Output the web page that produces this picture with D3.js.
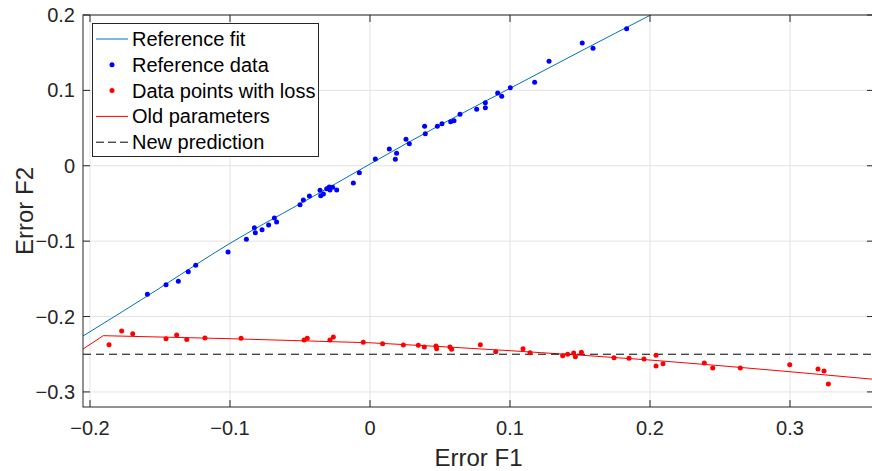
<!DOCTYPE html>
<html>
<head>
<meta charset="utf-8">
<script src="https://cdn.jsdelivr.net/npm/d3@7"></script>
<style>
  html, body { margin: 0; padding: 0; background: #fff; }
  svg { display: block; font-family: "Liberation Sans", Arial, Helvetica, sans-serif; }
</style>
</head>
<body>
<svg id="chart" width="872" height="471"></svg>
<script>
// ---------- data ----------
const xTicks = [-0.2, -0.1, 0, 0.1, 0.2, 0.3];
const xTickLabels = ["\u22120.2", "\u22120.1", "0", "0.1", "0.2", "0.3"];
const yTicks = [-0.3, -0.2, -0.1, 0, 0.1, 0.2];
const yTickLabels = ["\u22120.3", "\u22120.2", "\u22120.1", "0", "0.1", "0.2"];

const refX = [-0.159, -0.1457, -0.1369, -0.1298, -0.1245, -0.1014, -0.0883, -0.0826, -0.0819, -0.0771,
  -0.0724, -0.0683, -0.0667, -0.05, -0.0476, -0.0433, -0.0357, -0.0352, -0.0333, -0.0309,
  -0.0291, -0.0286, -0.0267, -0.0238, -0.0119, -0.0076, 0.0038, 0.0138, 0.0181, 0.0190,
  0.0257, 0.0281, 0.0390, 0.0395, 0.0481, 0.0514, 0.0576, 0.06, 0.0643, 0.0762,
  0.0824, 0.0824, 0.0912, 0.0941, 0.1002, 0.1176, 0.1279, 0.1516, 0.1593, 0.1833];
const refY = [-0.1705, -0.1578, -0.1533, -0.1405, -0.1321, -0.1144, -0.0976, -0.0822, -0.0888, -0.0848,
  -0.0786, -0.0693, -0.0746, -0.0517, -0.0454, -0.0401, -0.0326, -0.0397, -0.0375, -0.0304,
  -0.0282, -0.0322, -0.0286, -0.0322, -0.0229, -0.0092, 0.0090, 0.0222, 0.0086, 0.0165,
  0.0351, 0.0293, 0.0523, 0.0425, 0.0523, 0.0558, 0.0585, 0.0598, 0.0683, 0.0749,
  0.0837, 0.0770, 0.0965, 0.0921, 0.1036, 0.1107, 0.1386, 0.1629, 0.1558, 0.1818];

const fitX = [-0.205, -0.15, -0.1, -0.05, 0, 0.05, 0.1, 0.15, 0.2005, 0.25];
const fitY = [-0.2258, -0.162, -0.1029, -0.0505, 0.0023, 0.054, 0.1027, 0.1515, 0.2, 0.247];

const lossX = [-0.1864, -0.1774, -0.1695, -0.1457, -0.1381, -0.1309, -0.1179, -0.0921, -0.0471, -0.0448,
  -0.0286, -0.0262, -0.0048, 0.0090, 0.0238, 0.0345, 0.0388, 0.0471, 0.0476, 0.0571,
  0.0583, 0.0788, 0.0898, 0.1093, 0.1143, 0.1376, 0.1412, 0.1455, 0.1467, 0.1510,
  0.1743, 0.185, 0.1957, 0.2043, 0.2043, 0.2093, 0.2388, 0.2448, 0.2645, 0.2998,
  0.32, 0.3243, 0.3274];
const lossY = [-0.2374, -0.2192, -0.2228, -0.2294, -0.2245, -0.2303, -0.2285, -0.2289, -0.2312, -0.2289,
  -0.2312, -0.2272, -0.2342, -0.2360, -0.2378, -0.2382, -0.2404, -0.2391, -0.2427, -0.2404,
  -0.2435, -0.2374, -0.2467, -0.2427, -0.2480, -0.2520, -0.2501, -0.2484, -0.2533, -0.2475,
  -0.2546, -0.2554, -0.2563, -0.2515, -0.2656, -0.2626, -0.2617, -0.2683, -0.2683, -0.2639,
  -0.2696, -0.2723, -0.2895];

const oldX = [-0.205, -0.1905, -0.1, -0.05, 0, 0.05, 0.1, 0.15, 0.2, 0.25, 0.3, 0.36];
const oldY = [-0.2431, -0.2254, -0.2294, -0.2321, -0.2348, -0.2398, -0.2453, -0.2512, -0.2577, -0.2652, -0.2732, -0.2833];

const newX = [-0.205, 0.36];
const newY = [-0.25, -0.25];

const legendLabels = ["Reference fit", "Reference data", "Data points with loss", "Old parameters", "New prediction"];

// ---------- layout ----------
const W = 872, H = 471;
const L = 83, R = 874, T = 15, B = 407;
const x = d3.scaleLinear().domain([-0.205, 0.36]).range([L, R]);
const y = d3.scaleLinear().domain([-0.32, 0.2]).range([B, T]);
const axisCol = "#262626";
const tickLen = 7;

const svg = d3.select("#chart");
svg.append("defs").append("clipPath").attr("id", "clip")
  .append("rect").attr("x", L).attr("y", T).attr("width", R - L).attr("height", B - T);

// grid
const grid = svg.append("g");
grid.selectAll("line.gx").data(xTicks).join("line")
  .attr("x1", d => x(d)).attr("x2", d => x(d)).attr("y1", T).attr("y2", B)
  .attr("stroke", "#e3e3e3").attr("stroke-width", 1);
grid.selectAll("line.gy").data(yTicks).join("line")
  .attr("class", "gy")
  .attr("x1", L).attr("x2", R).attr("y1", d => y(d)).attr("y2", d => y(d))
  .attr("stroke", "#e3e3e3").attr("stroke-width", 1);

// plot content
const plot = svg.append("g").attr("clip-path", "url(#clip)");
const line = (xs, ys, curve) => d3.line().x(d => x(d[0])).y(d => y(d[1])).curve(curve || d3.curveLinear)(xs.map((v, i) => [v, ys[i]]));

plot.append("path").attr("d", line(fitX, fitY, d3.curveNatural))
  .attr("fill", "none").attr("stroke", "#0072BD").attr("stroke-width", 1);
plot.append("path").attr("d", line(oldX, oldY))
  .attr("fill", "none").attr("stroke", "#FF0000").attr("stroke-width", 1);
plot.append("path").attr("d", line(newX, newY))
  .attr("fill", "none").attr("stroke", "#000").attr("stroke-width", 1).attr("stroke-dasharray", "8,5");

plot.selectAll("circle.ref").data(refX.map((v, i) => [v, refY[i]])).join("circle")
  .attr("class", "ref").attr("cx", d => x(d[0])).attr("cy", d => y(d[1])).attr("r", 2.5).attr("fill", "#0000FF");
plot.selectAll("circle.loss").data(lossX.map((v, i) => [v, lossY[i]])).join("circle")
  .attr("class", "loss").attr("cx", d => x(d[0])).attr("cy", d => y(d[1])).attr("r", 2.5).attr("fill", "#FF0000");

// axes box & ticks
const ax = svg.append("g").attr("stroke", axisCol).attr("stroke-width", 1).attr("fill", "none");
ax.append("rect").attr("x", L).attr("y", T).attr("width", R - L).attr("height", B - T);
xTicks.forEach(t => {
  ax.append("line").attr("x1", x(t)).attr("x2", x(t)).attr("y1", B).attr("y2", B - tickLen);
  ax.append("line").attr("x1", x(t)).attr("x2", x(t)).attr("y1", T).attr("y2", T + tickLen);
});
yTicks.forEach(t => {
  ax.append("line").attr("x1", L).attr("x2", L + tickLen).attr("y1", y(t)).attr("y2", y(t));
  ax.append("line").attr("x1", R).attr("x2", R - tickLen).attr("y1", y(t)).attr("y2", y(t));
});

// tick labels
svg.append("g").selectAll("text").data(xTicks).join("text")
  .attr("x", d => x(d)).attr("y", 435).attr("text-anchor", "middle")
  .attr("font-size", 20).attr("fill", axisCol)
  .text((d, i) => xTickLabels[i]);
svg.append("g").selectAll("text").data(yTicks).join("text")
  .attr("x", 75).attr("y", d => y(d) + 7).attr("text-anchor", "end")
  .attr("font-size", 20).attr("fill", axisCol)
  .text((d, i) => yTickLabels[i]);

// axis labels
svg.append("text").attr("x", (L + R) / 2).attr("y", 466).attr("text-anchor", "middle")
  .attr("font-size", 24).attr("fill", axisCol).text("Error F1");
svg.append("text").attr("transform", `translate(33,${(T + B) / 2}) rotate(-90)`).attr("text-anchor", "middle")
  .attr("font-size", 24).attr("fill", axisCol).text("Error F2");

// legend
const lg = svg.append("g");
lg.append("rect").attr("x", 92.5).attr("y", 23.5).attr("width", 226).attr("height", 133)
  .attr("fill", "#fff").attr("stroke", axisCol).attr("stroke-width", 1);
const rowY = i => 39 + i * 25.8;
const sx1 = 96, sx2 = 128, tx = 132;
lg.append("line").attr("x1", sx1).attr("x2", sx2).attr("y1", rowY(0)).attr("y2", rowY(0)).attr("stroke", "#0072BD");
lg.append("circle").attr("cx", (sx1 + sx2) / 2).attr("cy", rowY(1)).attr("r", 2.5).attr("fill", "#0000FF");
lg.append("circle").attr("cx", (sx1 + sx2) / 2).attr("cy", rowY(2)).attr("r", 2.5).attr("fill", "#FF0000");
lg.append("line").attr("x1", sx1).attr("x2", sx2).attr("y1", rowY(3)).attr("y2", rowY(3)).attr("stroke", "#FF0000");
lg.append("line").attr("x1", sx1).attr("x2", sx2).attr("y1", rowY(4)).attr("y2", rowY(4)).attr("stroke", "#000").attr("stroke-dasharray", "8,4");
lg.selectAll("text").data(legendLabels).join("text")
  .attr("x", tx).attr("y", (d, i) => rowY(i) + 7).attr("font-size", 20).attr("fill", "#000")
  .text(d => d);
</script>
</body>
</html>
